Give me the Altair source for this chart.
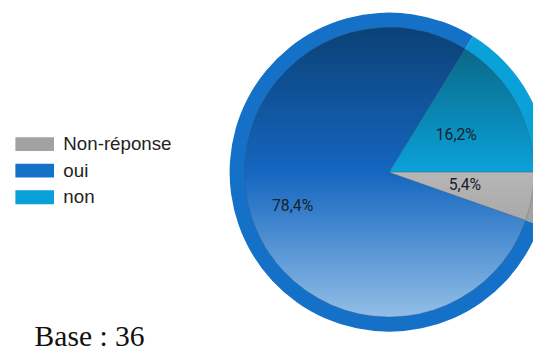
import math
import altair as alt
import pandas as pd

categories = ["Non-réponse", "oui", "non"]
values = [5.4, 78.4, 16.2]
labels = ["5,4%", "78,4%", "16,2%"]
ring_colors = ["#a2a2a2", "#1570c8", "#0aa0d8"]
base_text = ["Base : 36"]

df = pd.DataFrame({"cat": categories, "value": values, "label": labels,
                   "order": list(range(len(categories)))})

CX, CY = 387, 164
R_OUT, R_IN = 162, 147

theta_scale = alt.Scale(domain=[0, 100], range=[math.pi / 2, math.pi / 2 + 2 * math.pi])

base = (
    alt.Chart(df)
    .transform_window(cum="sum(value)", sort=[alt.SortField("order")], frame=[None, 0])
    .transform_calculate(start="datum.cum - datum.value",
                         mid="datum.cum - datum.value / 2")
)

pos = dict(x=alt.value(CX), y=alt.value(CY))

ring = base.mark_arc(radius=R_OUT).encode(
    theta=alt.Theta("start:Q", stack=None, scale=theta_scale),
    theta2="cum:Q",
    color=alt.Color(
        "cat:N",
        scale=alt.Scale(domain=categories, range=ring_colors),
        sort=categories,
        legend=alt.Legend(
            title=None, orient="none", legendX=17.6, legendY=126,
            symbolType="M-2.8,-1H2.8V1H-2.8Z", symbolSize=196,
            symbolStrokeWidth=0, symbolOpacity=1,
            labelFont="Liberation Sans", labelFontSize=19, labelColor="#222222",
            labelOffset=19.6, rowPadding=7, padding=0,
        ),
    ),
    **pos,
)


def grad(stops):
    return alt.Gradient(
        gradient="linear",
        stops=[alt.GradientStop(color=c, offset=o) for o, c in stops],
        x1=0, x2=0, y1=0, y2=1,
    )


slice_fills = {
    "oui": grad([(0, "#0b4176"), (0.5, "#1466c0"), (1, "#92bee7")]),
    "non": grad([(0, "#0a6888"), (1, "#0aa2d9")]),
    "Non-réponse": grad([(0, "#b6b6b6"), (1, "#a9a9a9")]),
}

slices = [
    base.transform_filter(alt.datum.cat == c)
    .mark_arc(radius=R_IN, fill=f, stroke="#44505c", strokeWidth=0.5, strokeOpacity=0.5)
    .encode(theta=alt.Theta("start:Q", stack=None, scale=theta_scale), theta2="cum:Q", **pos)
    for c, f in slice_fills.items()
]

txt_style = dict(font="Roboto", fontSize=16, color="#17222e")
label_big = base.transform_filter(alt.datum.cat == "oui").mark_text(radius=104, **txt_style).encode(
    theta=alt.Theta("mid:Q", stack=None, scale=theta_scale), text="label:N", **pos)
label_small = base.transform_filter(alt.datum.cat != "oui").mark_text(radius=78, **txt_style).encode(
    theta=alt.Theta("mid:Q", stack=None, scale=theta_scale), text="label:N", **pos)

base_label = alt.Chart(pd.DataFrame({"t": base_text})).mark_text(
    font="Liberation Serif", fontSize=30, align="left", baseline="alphabetic", color="#111111"
).encode(text="t:N", x=alt.value(27), y=alt.value(340))

chart = (
    alt.layer(ring, *slices, label_big, label_small, base_label)
    .properties(width=533, height=347, padding=0, autosize="none")
    .configure_view(stroke=None)
)

chart.save("out.html", embed_options={"renderer": "svg", "actions": False})
